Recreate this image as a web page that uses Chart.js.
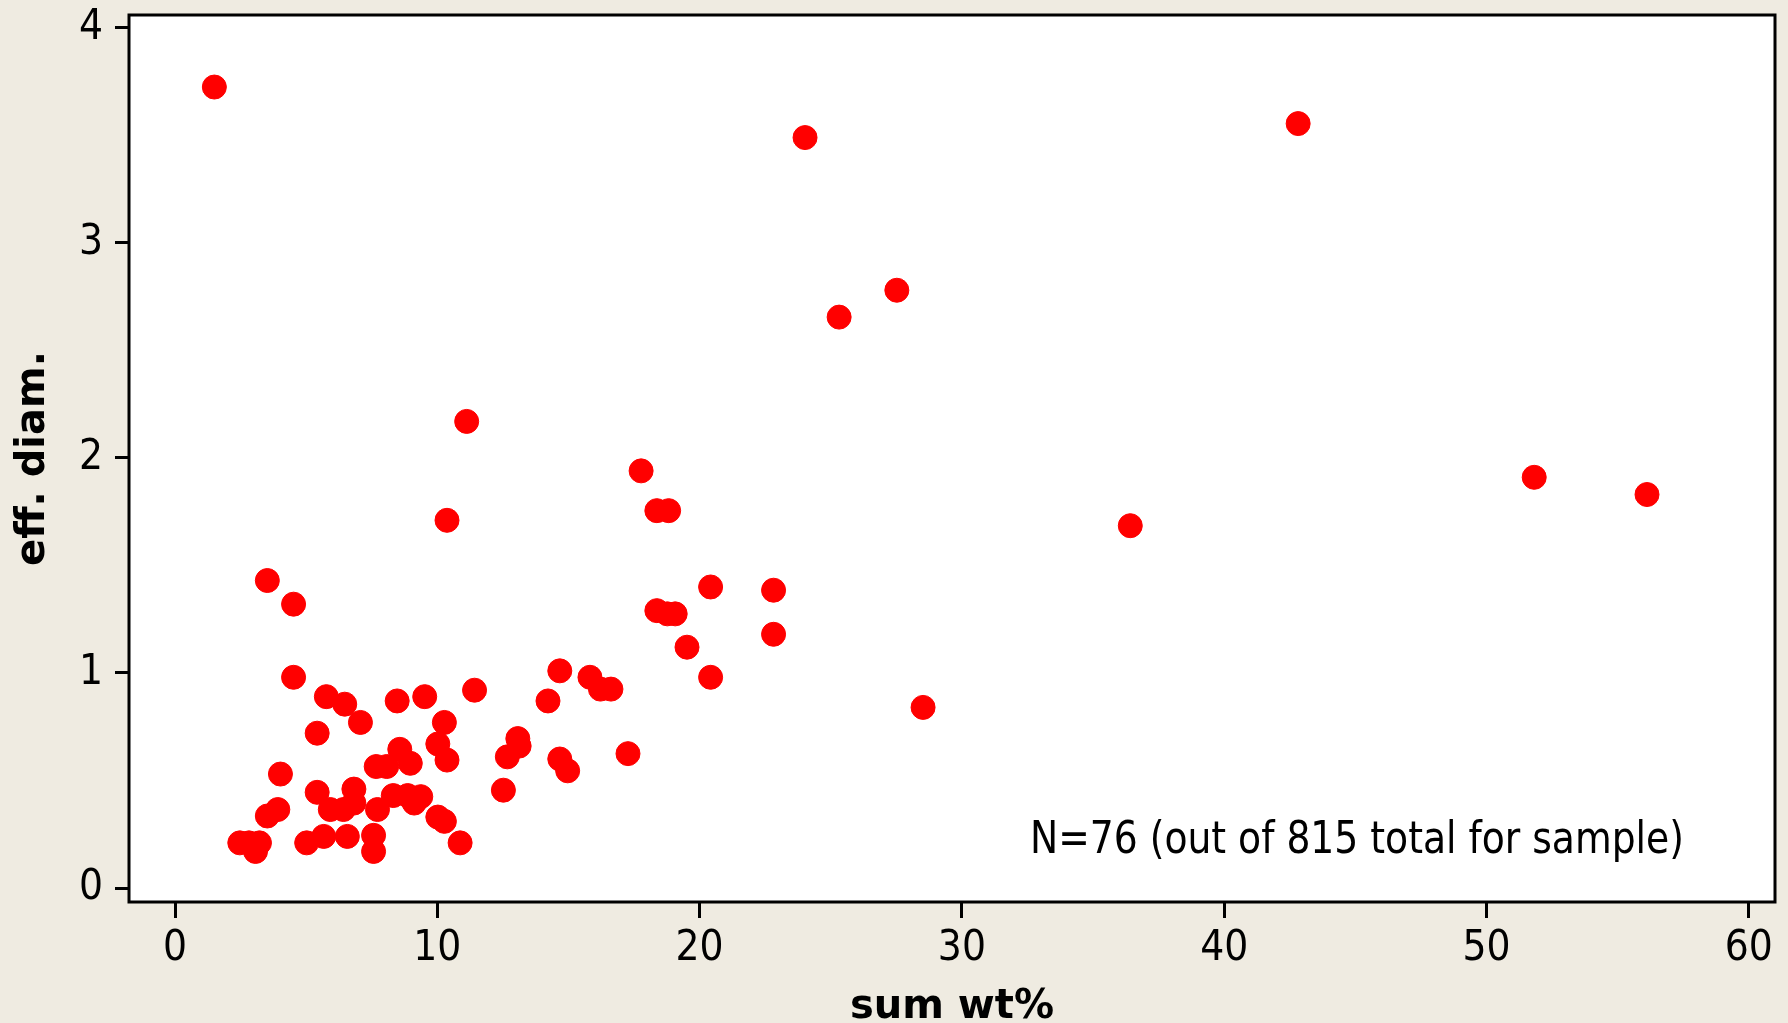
<!DOCTYPE html>
<html lang="en">

<head>
    <meta charset="UTF-8" />
    <title>eff. diam. vs sum wt%</title>
    <style>
        * {
            margin: 0;
            padding: 0;
        }

        body {
            background: #efebe1;
            overflow: hidden;
        }

        .chartBox {
            width: 1788px;
            height: 1023px;
        }
    </style>
</head>

<body>
    <div class="chartBox">
        <canvas id="myChart" width="1788" height="1023"></canvas>
    </div>
    <script src="https://cdn.jsdelivr.net/npm/chart.js@4.4.1/dist/chart.umd.min.js"></script>
    <script>
        // sum wt% / eff. diam. pairs
        const sumWt = [
            1.5, 24.02, 42.82, 27.52, 25.32, 11.12, 17.77, 51.82, 56.12, 36.42,
            10.37, 18.37, 18.82, 3.52, 4.52, 20.42, 22.82, 18.37, 18.77, 19.07,
            22.82, 19.52, 14.67, 15.82, 16.22, 16.62, 20.42, 28.52, 4.52, 11.42,
            5.77, 6.47, 8.47, 9.52, 7.07, 10.27, 5.42, 14.22, 13.07, 12.67,
            17.27, 14.67, 14.97, 12.52, 4.02, 8.57, 8.97, 10.02, 10.37, 7.67,
            8.07, 5.42, 6.82, 6.82, 5.92, 6.42, 7.72, 8.32, 8.87, 9.12,
            9.37, 10.02, 10.27, 3.92, 3.52, 2.47, 2.82, 3.07, 3.22, 5.02,
            5.67, 6.57, 7.57, 7.57, 10.87, 13.12
        ];
        const effDiam = [
            3.725, 3.49, 3.555, 2.78, 2.655, 2.17, 1.94, 1.91, 1.83, 1.685,
            1.71, 1.755, 1.755, 1.43, 1.32, 1.40, 1.385, 1.29, 1.275, 1.275,
            1.18, 1.12, 1.01, 0.98, 0.925, 0.925, 0.98, 0.84, 0.98, 0.92,
            0.89, 0.855, 0.87, 0.89, 0.77, 0.77, 0.72, 0.87, 0.695, 0.61,
            0.625, 0.60, 0.545, 0.455, 0.53, 0.645, 0.58, 0.67, 0.595, 0.565,
            0.565, 0.445, 0.46, 0.395, 0.365, 0.365, 0.365, 0.43, 0.43, 0.395,
            0.425, 0.33, 0.31, 0.365, 0.335, 0.21, 0.21, 0.17, 0.21, 0.21,
            0.24, 0.24, 0.245, 0.17, 0.21, 0.66
        ];
        const xTicks = [0, 10, 20, 30, 40, 50, 60];
        const yTicks = [0, 1, 2, 3, 4];
        const note = "N=76 (out of 815 total for sample)";

        const points = sumWt.map((x, i) => ({ x: x, y: effDiam[i] }));

        const fontFamily = '"DejaVu Sans Condensed", "DejaVu Sans", sans-serif';
        const boldFamily = '"DejaVu Sans", sans-serif';

        // white plot area + black frame + sample note
        const framePlugin = {
            id: "frame",
            beforeDraw(chart) {
                const { ctx, chartArea: a } = chart;
                ctx.save();
                ctx.fillStyle = "#ffffff";
                ctx.fillRect(a.left, a.top, a.right - a.left, a.bottom - a.top);
                ctx.restore();
            },
            afterDraw(chart) {
                const { ctx, chartArea: a } = chart;
                ctx.save();
                ctx.strokeStyle = "#000000";
                ctx.lineWidth = 3;
                ctx.strokeRect(a.left, a.top, a.right - a.left, a.bottom - a.top);

                ctx.fillStyle = "#000000";
                ctx.font = "44px " + fontFamily;
                ctx.textBaseline = "middle";
                ctx.textAlign = "left";
                ctx.fillText(note, a.left + 901, a.top + 827, 654);
                ctx.restore();
            }
        };

        const data = {
            datasets: [
                {
                    label: "particles",
                    data: points,
                    backgroundColor: "#ff0000",
                    borderColor: "#ff0000",
                    borderWidth: 1,
                    pointRadius: 12,
                    pointHoverRadius: 12
                }
            ]
        };

        const options = {
            responsive: false,
            animation: false,
            layout: {
                padding: { left: 0, right: 13, top: 15, bottom: 0 }
            },
            scales: {
                x: {
                    type: "linear",
                    min: -1.754,
                    max: 61.0,
                    afterBuildTicks: (axis) => {
                        axis.ticks = xTicks.map((v) => ({ value: v }));
                    },
                    afterFit: (scale) => {
                        scale.height = 121;
                        scale.paddingLeft = 0;
                        scale.paddingRight = 0;
                    },
                    border: { display: false },
                    grid: {
                        drawOnChartArea: false,
                        drawTicks: true,
                        tickLength: 16,
                        lineWidth: 3,
                        color: "#000000",
                        tickColor: "#000000"
                    },
                    ticks: {
                        color: "#000000",
                        padding: 6,
                        maxRotation: 0,
                        font: { size: 42, family: fontFamily }
                    },
                    title: {
                        display: true,
                        text: "sum wt%",
                        color: "#000000",
                        padding: { top: 0, bottom: 0 },
                        font: { size: 40, weight: "bold", family: boldFamily, lineHeight: 0.78 }
                    }
                },
                y: {
                    type: "linear",
                    min: -0.065,
                    max: 4.06,
                    afterBuildTicks: (axis) => {
                        axis.ticks = yTicks.map((v) => ({ value: v }));
                    },
                    afterFit: (scale) => {
                        scale.width = 129;
                        scale.paddingTop = 0;
                        scale.paddingBottom = 0;
                    },
                    border: { display: false },
                    grid: {
                        drawOnChartArea: false,
                        drawTicks: true,
                        tickLength: 14,
                        lineWidth: 3,
                        color: "#000000",
                        tickColor: "#000000"
                    },
                    ticks: {
                        color: "#000000",
                        padding: 12,
                        font: { size: 42, family: fontFamily }
                    },
                    title: {
                        display: true,
                        text: "eff. diam.",
                        color: "#000000",
                        padding: { top: 10, bottom: 0 },
                        font: { size: 40, weight: "bold", family: boldFamily, lineHeight: 1.2 }
                    }
                }
            },
            plugins: {
                legend: { display: false },
                tooltip: { enabled: false }
            }
        };

        const config = {
            type: "scatter",
            data: data,
            plugins: [framePlugin],
            options: options
        };

        const ctx = document.getElementById("myChart").getContext("2d");
        const myChart = new Chart(ctx, config);
    </script>
</body>

</html>
